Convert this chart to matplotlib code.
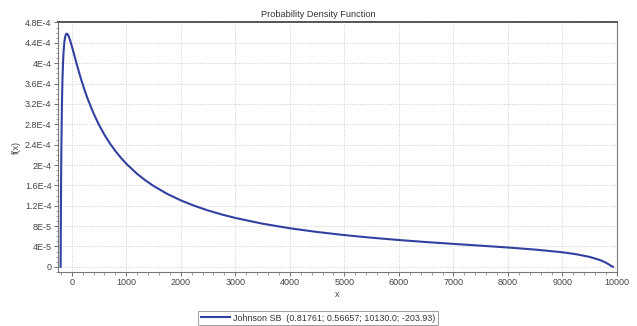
import matplotlib
matplotlib.use("Agg")
import matplotlib.pyplot as plt
from matplotlib.ticker import AutoMinorLocator

plt.rcParams['font.family'] = ['Liberation Sans', 'DejaVu Sans']

# valeurs (x, f(x))
x_vals = [-203.93, -203, -202, -200, -195, -190, -180, -170, -160, -150, -135, -120, -100,
          -80, -60, -30, 0, 50, 100, 150, 200, 250, 300, 400, 500, 600, 700, 800, 900,
          1000, 1200, 1350, 1500, 1750, 2000, 2250, 2500, 2750, 3000, 3500, 4000,
          4500, 5000, 5500, 6000, 6500, 7000, 7500, 8000, 8500, 9000, 9250, 9500,
          9700, 9800, 9900, 9926]
fx_vals = [0, 1.22e-5, 3.41e-5, 7.86e-5, 1.680e-4, 2.322e-4, 3.159e-4, 3.671e-4, 3.999e-4,
           4.216e-4, 4.417e-4, 4.523e-4, 4.579e-4, 4.576e-4, 4.540e-4, 4.452e-4, 4.343e-4,
           4.146e-4, 3.950e-4, 3.763e-4, 3.589e-4, 3.427e-4, 3.279e-4, 3.015e-4, 2.789e-4,
           2.594e-4, 2.425e-4, 2.276e-4, 2.144e-4, 2.026e-4, 1.825e-4, 1.699e-4, 1.589e-4,
           1.433e-4, 1.305e-4, 1.198e-4, 1.107e-4, 1.028e-4, 9.60e-5, 8.47e-5, 7.57e-5,
           6.84e-5, 6.23e-5, 5.71e-5, 5.26e-5, 4.86e-5, 4.50e-5, 4.15e-5, 3.79e-5, 3.38e-5,
           2.85e-5, 2.47e-5, 1.94e-5, 1.28e-5, 8.0e-6, 1.3e-6, 0]

x_ticks = [0, 1000, 2000, 3000, 4000, 5000, 6000, 7000, 8000, 9000, 10000]
y_ticks = [0, 4e-5, 8e-5, 1.2e-4, 1.6e-4, 2e-4, 2.4e-4, 2.8e-4, 3.2e-4, 3.6e-4, 4e-4, 4.4e-4, 4.8e-4]
y_labels = ['0', '4E-5', '8E-5', '1.2E-4', '1.6E-4', '2E-4', '2.4E-4', '2.8E-4',
            '3.2E-4', '3.6E-4', '4E-4', '4.4E-4', '4.8E-4']
legend_label = 'Johnson SB  (0.81761; 0.56657; 10130.0; -203.93)'

fig = plt.figure(figsize=(6.37, 3.26), dpi=100)
ax = fig.add_axes([0.0906, 0.166, 0.878, 0.765])

ax.plot(x_vals, fx_vals, color='#3340a0', lw=1.5, label=legend_label)

ax.set_xlim(-257, 10000)
ax.set_ylim(-1e-5, 4.8e-4)
ax.set_xticks(x_ticks)
ax.set_yticks(y_ticks)
ax.set_yticklabels(y_labels)
ax.xaxis.set_minor_locator(AutoMinorLocator(5))
ax.yaxis.set_minor_locator(AutoMinorLocator(4))
ax.tick_params(labelsize=6.5, labelcolor='#444444', color='#555555', length=3, width=0.6, pad=1.5)
ax.tick_params(which='minor', length=1.8, width=0.5, color='#777777')
ax.grid(True, which='major', ls=':', color='#cccccc', lw=0.7)

for side in ['left', 'bottom', 'right']:
    ax.spines[side].set_color('#777777')
    ax.spines[side].set_linewidth(0.8)
ax.spines['top'].set_color('#555555')
ax.spines['top'].set_linewidth(1.4)

fig.text(0.5, 0.955, 'Probability Density Function', fontsize=6.6, color='#333333',
         ha='center', va='center')
ax.set_xlabel('x', fontsize=6.5, color='#444444', labelpad=2)
ax.set_ylabel('f(x)', fontsize=6.5, color='#444444', labelpad=3)

leg = fig.legend(loc='upper center', bbox_to_anchor=(0.499, 0.06), bbox_transform=fig.transFigure,
                 fontsize=6.4, frameon=True, fancybox=False, edgecolor='#888888',
                 handlelength=3.3, borderpad=0.3, handletextpad=0.3)
leg.get_frame().set_linewidth(0.7)
for t in leg.get_texts():
    t.set_color('#333333')

fig.savefig('out.png', dpi=100)
